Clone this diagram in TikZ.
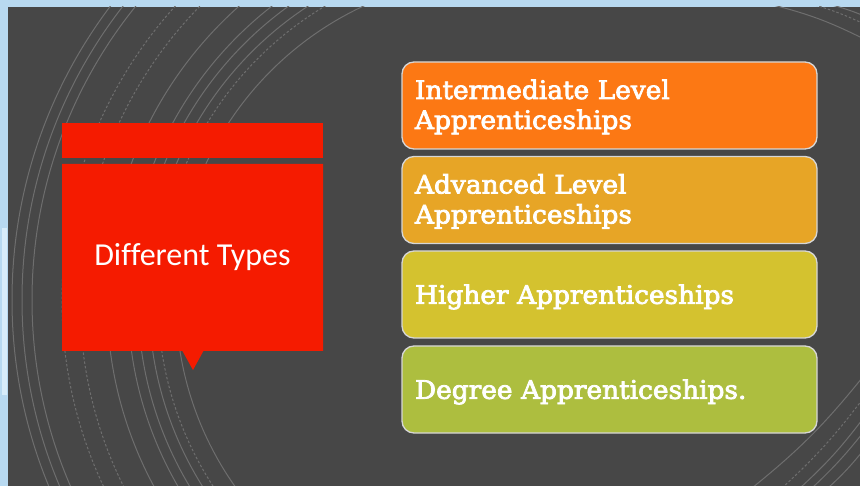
\documentclass[tikz,border=0pt]{standalone}
\usepackage{fontspec}
\setmainfont{DejaVu Serif}
\newfontfamily\slab[FakeBold=3,FakeStretch=1.035]{DejaVu Serif}
\newfontfamily\calfont[Ligatures=NoCommon]{Carlito}
\usetikzlibrary{shapes.callouts}
\definecolor{bgblue}{HTML}{B8D9F0}
\definecolor{stripblue}{HTML}{D8ECF9}
\definecolor{slate}{HTML}{474747}
\definecolor{arcgray}{HTML}{6E6E6E}
\definecolor{redbg}{HTML}{F51B00}
\definecolor{cardA}{HTML}{FC7814}
\definecolor{cardB}{HTML}{E7A526}
\definecolor{cardC}{HTML}{D4C22F}
\definecolor{cardD}{HTML}{ADBE3F}
\definecolor{cardline}{HTML}{D6D6D6}
\tikzset{
  arcline/.style={draw=arcgray, line width=1pt},
  dashedarc/.style={arcline, dash pattern=on 2.5pt off 2pt},
  redfill/.style={fill=redbg, draw=none, inner sep=0pt},
  stepcard/.style={draw=cardline, line width=1.3pt, rounded corners=12pt,
    minimum width=415pt, minimum height=87pt, text width=389pt,
    inner xsep=13pt, inner ysep=0pt, align=left, text=white,
    font=\slab\fontsize{25.5}{30}\selectfont},
  twoline/.style={text height=24pt, text depth=37pt},
  oneline/.style={text height=24pt, text depth=5.4pt}
}
\begin{document}
\begin{tikzpicture}[x=1pt,y=-1pt]
\useasboundingbox (0,0) rectangle (860,486);
\fill[bgblue] (0,0) rectangle (860,486);
\fill[stripblue] (2,228) rectangle (7,395);
\fill[slate] (8,7) rectangle (860,486);
% background arcs
\begin{scope}
  \clip (8,7) rectangle (500,486);
  \foreach \r in {488,478,468,393,372,362,351,324}
    \draw[arcline] (500,300) circle[radius=\r];
  \foreach \r in {438,420,342}
    \draw[dashedarc] (500,300) circle[radius=\r];
\end{scope}
\begin{scope}
  \clip (8,7) rectangle (860,486);
  \draw[arcline] (773,5) to[bend left=6] (862,38);
  \draw[dashedarc] (815,5) to[bend left=4] (862,23);
  \draw[arcline] (832,5) to[bend left=3] (862,15);
  \draw[arcline] (752,488) to[bend right=6] (862,378);
  \draw[dashedarc] (782,488) to[bend right=5] (862,400);
  \draw[arcline] (800,488) to[bend right=5] (862,420);
  \draw[arcline] (812,488) to[bend right=4] (862,434);
  \draw[arcline] (828,488) to[bend right=4] (862,452);
\end{scope}
% red callout
\node[redfill, minimum width=261pt, minimum height=35pt] (bar) at (192.5,140.5) {};
\node[redfill, rectangle callout, callout absolute pointer={(193,370)},
      callout pointer width=21pt, minimum width=261pt, minimum height=187pt,
      text=white, font=\calfont\fontsize{32}{36}\selectfont,
      text height=22pt, text depth=5pt] (types) at (192.5,257.5) {Different Types};
% cards
\node[stepcard, twoline, fill=cardA] (c1) at (609.5,105.5) {Intermediate Level\\Apprenticeships};
\node[stepcard, twoline, fill=cardB] (c2) at (609.5,200) {Advanced Level\\Apprenticeships};
\node[stepcard, oneline, fill=cardC] (c3) at (609.5,294.5) {Higher Apprenticeships};
\node[stepcard, oneline, fill=cardD] (c4) at (609.5,389.5) {Degree Apprenticeships.};
\end{tikzpicture}
\end{document}
